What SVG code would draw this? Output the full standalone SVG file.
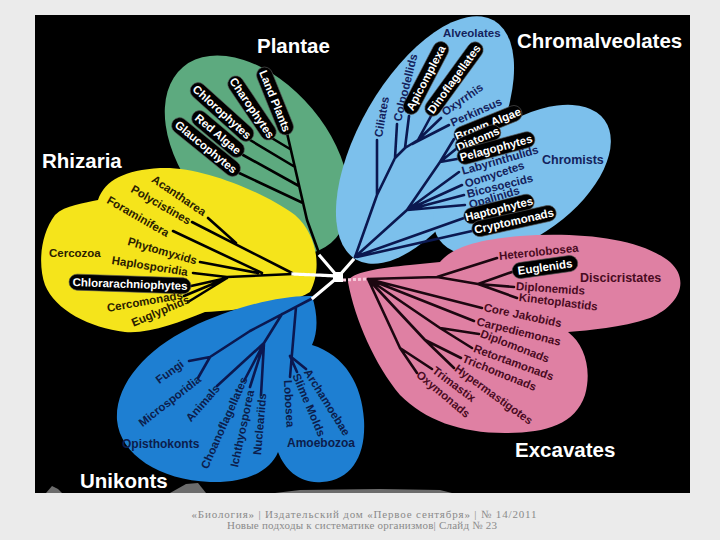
<svg xmlns="http://www.w3.org/2000/svg" width="720" height="540" viewBox="0 0 720 540">
<style>
.tk{fill:none;stroke:#000;stroke-width:2.6;stroke-linecap:round;stroke-linejoin:round}
.tn{fill:none;stroke:#0b1850;stroke-width:2.6;stroke-linecap:round;stroke-linejoin:round}
.tx{fill:none;stroke:#1c0710;stroke-width:2.6;stroke-linecap:round;stroke-linejoin:round}
.tw{fill:none;stroke:#fff;stroke-width:3.2;stroke-linecap:square}
.pill{fill:#000;stroke:#555;stroke-width:0.6}
text{font-family:"Liberation Sans",Arial,Helvetica,sans-serif;font-weight:bold}
.pt{fill:#fff;font-size:11.5px;text-anchor:middle;dominant-baseline:central}
.lb{font-size:11.5px;dominant-baseline:central}
.cn{fill:#14225c}
.cx{fill:#4a0b22}
.cr{fill:#2a2000}
.cu{fill:#0c1d4c}
.ttl{fill:#fff;font-size:20.5px}
.ft{font-family:"Liberation Serif","Times New Roman",serif;font-weight:normal;font-size:11px;fill:#8a8a8a;text-anchor:middle}
</style>
<rect x="0" y="0" width="720" height="540" fill="#ebebeb"/>
<rect x="35" y="15" width="655" height="478" fill="#000"/>
<g id="bottom-artifacts" fill="#9a9a9a" opacity="0.7">
<path d="M46,493 L52,486 L58,489 L62,493 Z"/>
<path d="M170,493 L186,484 L198,483 L206,493 Z"/>
<path d="M275,493 L300,490 L380,489 L440,490 L452,493 Z"/>
</g>
<g id="blobs">
<ellipse id="blob-plantae" cx="257" cy="155" rx="115" ry="72" transform="rotate(50 257 155)" fill="#5daa7f"/>
<path id="blob-rhizaria" d="M45,285 C38,265 40,235 55,215 C65,205 85,203 98,200 C105,180 125,170 160,168 C200,166 260,190 295,215 C318,235 322,270 310,292 C290,305 240,310 205,312 C180,322 150,334 125,332 C90,328 55,310 45,285 Z" fill="#f5e41b"/>
<g id="blob-chromalveolates" fill="#7cc0ec">
<ellipse cx="425" cy="140" rx="138" ry="65" transform="rotate(-60 425 140)"/>
<ellipse cx="522" cy="180" rx="102" ry="56" transform="rotate(-36 522 180)"/>
</g>
<path id="blob-excavates" d="M348,282 C350,272 380,268 410,265 L440,262 C450,250 470,240 520,236 C580,232 640,238 670,262 C690,280 680,305 650,318 C620,328 590,330 568,332 C585,345 592,370 585,395 C575,425 545,433 505,433 C460,433 425,420 400,395 C375,365 355,320 348,282 Z" fill="#df80a3"/>
<path id="blob-unikonts" d="M312,296 C318,315 318,332 312,345 C345,355 362,385 364,420 C366,455 352,480 322,482 C300,484 285,470 278,452 C270,472 245,483 210,482 C160,480 120,455 117,420 C115,385 145,350 190,328 C230,308 280,295 312,296 Z" fill="#1e7fd2"/>
</g>
<g id="connectors">
<path class="tk" d="M320,256 L307,220 L287,133 M270,137 L290,149 M250,140 L295,167 M243,155 L299,186 M237,172 L303,203"/>
<path class="tn" d="M355,257 L377,195 L395,158 L405,148 L418,140 M377,195 L377,140 M395,158 L397,124 M405,148 L409,116 M418,140 L431,116 M418,140 L441,118 M412,144 L449,125"/>
<path class="tn" d="M356,256 L407,210 L440,162 M440,162 L454,139 M440,162 L456,149 M440,162 L457,159 M407,210 L459,172 M407,210 L462,185 M407,210 L464,195 M407,210 L465,205 M357,256 L464,218 M357,257 L472,231"/>
<path class="tx" d="M368,279 L437,277 L497,258 M437,277 L478,284 L512,272 M478,284 L514,287 M478,284 L517,298 M368,279 L482,308 M368,279 L474,321 M368,279 L440,328 L479,334 M440,328 L472,348 M368,279 L425,340 L461,358 M425,340 L454,368 M368,279 L400,348 L432,369 M400,348 L417,373"/>
<path class="tk" d="M293,274 L227,277 M192,222 L292,273 M208,218 L236,243 M173,231 L262,273 M200,262 L258,273 M193,273 L227,277 M191,286 L227,278 M184,296 L227,278 M188,302 L227,278"/>
<path class="tn" d="M313,298 L250,331 L210,357 L189,361 M210,357 L198,378 M296,307 L290,377 M290,356 L297,372 M290,356 L306,369 M282,314 L264,343 L217,386 M264,343 L244,381 M264,343 L250,387 M264,343 L261,395"/>
<path class="tw" d="M338,277 L320,256 M338,277 L353,260 M338,277 L313,298"/>
<path class="tw" d="M338,276 L293,274" stroke-dasharray="3,2"/>
<path d="M343,280 L368,279" fill="none" stroke="#f6cadb" stroke-width="3" stroke-dasharray="3,2"/>
<rect x="333" y="272" width="10" height="10" fill="#fff"/>
</g>
<g id="plantae">
<text class="ttl" x="257" y="53">Plantae</text>
<g id="land-plants" transform="translate(275,101) rotate(68)"><rect class="pill" x="-36" y="-8" width="72" height="16" rx="8"/><text class="pt">Land Plants</text></g>
<g id="charophytes" transform="translate(252,108) rotate(56)"><rect class="pill" x="-37" y="-8" width="74" height="16" rx="8"/><text class="pt">Charophytes</text></g>
<g id="chlorophytes" transform="translate(222,112) rotate(42)"><rect class="pill" x="-40" y="-8" width="80" height="16" rx="8"/><text class="pt">Chlorophytes</text></g>
<g id="red-algae" transform="translate(218,134) rotate(40)"><rect class="pill" x="-32" y="-8" width="64" height="16" rx="8"/><text class="pt">Red Algae</text></g>
<g id="glaucophytes" transform="translate(206,147) rotate(39)"><rect class="pill" x="-42" y="-8" width="84" height="16" rx="8"/><text class="pt">Glaucophytes</text></g>
</g>
<g id="chromalveolates">
<text class="ttl" x="517" y="48">Chromalveolates</text>
<text id="alveolates" class="cn" x="443" y="37" font-size="11.5">Alveolates</text>
<text id="chromists" class="cn" x="542" y="164" font-size="12.5">Chromists</text>
<text id="ciliates" class="lb cn" transform="translate(378,137) rotate(-80)">Ciliates</text>
<text id="colpodellids" class="lb cn" transform="translate(397,121) rotate(-76)">Colpodellids</text>
<g id="apicomplexa" transform="translate(426,78) rotate(-62.5)"><rect class="pill" x="-40" y="-8" width="80" height="16" rx="8"/><text class="pt">Apicomplexa</text></g>
<g id="dinoflagellates" transform="translate(454,79) rotate(-54)"><rect class="pill" x="-44" y="-8" width="88" height="16" rx="8"/><text class="pt">Dinoflagellates</text></g>
<text id="oxyrrhis" class="lb cn" transform="translate(443,113) rotate(-35)">Oxyrrhis</text>
<text id="perkinsus" class="lb cn" transform="translate(451,123) rotate(-24)">Perkinsus</text>
<g id="brown-algae" transform="translate(488,124) rotate(-22)"><rect class="pill" x="-36" y="-8" width="72" height="16" rx="8"/><text class="pt">Brown Algae</text></g>
<g id="diatoms" transform="translate(478,139) rotate(-23)"><rect class="pill" x="-24" y="-8" width="48" height="16" rx="8"/><text class="pt">Diatoms</text></g>
<g id="pelagophytes" transform="translate(496,148) rotate(-15)"><rect class="pill" x="-40" y="-8" width="80" height="16" rx="8"/><text class="pt">Pelagophytes</text></g>
<text id="labyrinthulids" class="lb cn" transform="translate(462,171) rotate(-16)">Labyrinthulids</text>
<text id="oomycetes" class="lb cn" transform="translate(465,184) rotate(-18)">Oomycetes</text>
<text id="bicosoecids" class="lb cn" transform="translate(467,194) rotate(-14)">Bicosoecids</text>
<text id="opalinids" class="lb cn" transform="translate(469,205) rotate(-17)">Opalinids</text>
<g id="haptophytes" transform="translate(499,209) rotate(-14)"><rect class="pill" x="-36" y="-8" width="72" height="16" rx="8"/><text class="pt">Haptophytes</text></g>
<g id="cryptomonads" transform="translate(514,221) rotate(-12.5)"><rect class="pill" x="-43" y="-8" width="86" height="16" rx="8"/><text class="pt">Cryptomonads</text></g>
</g>
<g id="excavates">
<text class="ttl" x="515" y="457">Excavates</text>
<text id="discicristates" class="cx" x="580" y="282" font-size="12.5">Discicristates</text>
<text id="heterolobosea" class="lb cx" transform="translate(499,256) rotate(-6)">Heterolobosea</text>
<g id="euglenids" transform="translate(545,267) rotate(-8)"><rect class="pill" x="-33" y="-8" width="66" height="16" rx="8"/><text class="pt">Euglenids</text></g>
<text id="diplonemids" class="lb cx" transform="translate(516,286) rotate(4)">Diplonemids</text>
<text id="kinetoplastids" class="lb cx" transform="translate(519,297) rotate(7)">Kinetoplastids</text>
<text id="core-jakobids" class="lb cx" transform="translate(484,307) rotate(12)">Core Jakobids</text>
<text id="carpediemonas" class="lb cx" transform="translate(477,321) rotate(14)">Carpediemonas</text>
<text id="diplomonads" class="lb cx" transform="translate(481,333) rotate(21)">Diplomonads</text>
<text id="retortamonads" class="lb cx" transform="translate(474,348) rotate(20)">Retortamonads</text>
<text id="trichomonads" class="lb cx" transform="translate(463,358) rotate(22)">Trichomonads</text>
<text id="hypermastigotes" class="lb cx" transform="translate(456,367) rotate(36)">Hypermastigotes</text>
<text id="trimastix" class="lb cx" transform="translate(434,369) rotate(37)">Trimastix</text>
<text id="oxymonads" class="lb cx" transform="translate(418,373) rotate(40)">Oxymonads</text>
</g>
<g id="rhizaria">
<text class="ttl" x="42" y="168">Rhizaria</text>
<text id="cercozoa" class="cr" x="49" y="257" font-size="11.5">Cercozoa</text>
<text id="acantharea" class="lb cr" transform="translate(153,178) rotate(34)">Acantharea</text>
<text id="polycistines" class="lb cr" transform="translate(132,188) rotate(30)">Polycistines</text>
<text id="foraminifera" class="lb cr" transform="translate(108,199) rotate(30)">Foraminifera</text>
<text id="phytomyxids" class="lb cr" transform="translate(128,241) rotate(16)">Phytomyxids</text>
<text id="haplosporidia" class="lb cr" transform="translate(112,260) rotate(9)">Haplosporidia</text>
<g id="chlorarachniophytes" transform="translate(130,284) rotate(2)"><rect class="pill" x="-61" y="-8" width="122" height="16" rx="8"/><text class="pt">Chlorarachniophytes</text></g>
<text id="cercomonads" class="lb cr" transform="translate(107,308) rotate(-10)">Cercomonads</text>
<text id="euglyphids" class="lb cr" transform="translate(132,323) rotate(-23)">Euglyphids</text>
</g>
<g id="unikonts">
<text class="ttl" x="80" y="488">Unikonts</text>
<text id="opisthokonts" class="cu" x="122" y="448" font-size="12">Opisthokonts</text>
<text id="amoebozoa" class="cu" x="287" y="447" font-size="12">Amoebozoa</text>
<text id="fungi" class="lb cu" transform="translate(157,381) rotate(-36)">Fungi</text>
<text id="microsporidia" class="lb cu" transform="translate(140,424) rotate(-38)">Microsporidia</text>
<text id="animals" class="lb cu" transform="translate(188,420) rotate(-49)">Animals</text>
<text id="choanoflagellates" class="lb cu" transform="translate(204,468) rotate(-66)">Choanoflagellates</text>
<text id="ichthyosporea" class="lb cu" transform="translate(234,467) rotate(-78)">Ichthyosporea</text>
<text id="nucleariids" class="lb cu" transform="translate(257,455) rotate(-85)">Nucleariids</text>
<text id="lobosea" class="lb cu" transform="translate(288,380) rotate(87)">Lobosea</text>
<text id="slime-molds" class="lb cu" transform="translate(296,374) rotate(67)">Slime Molds</text>
<text id="archamoebae" class="lb cu" transform="translate(307,370) rotate(58)">Archamoebae</text>
</g>
<g id="footer">
<text class="ft" x="364" y="518" textLength="345" lengthAdjust="spacing">«Биология» | Издательский дом «Первое сентября» | № 14/2011</text>
<text class="ft" x="362" y="529" textLength="270" lengthAdjust="spacing">Новые подходы к систематике организмов| Слайд № 23</text>
</g>
</svg>
